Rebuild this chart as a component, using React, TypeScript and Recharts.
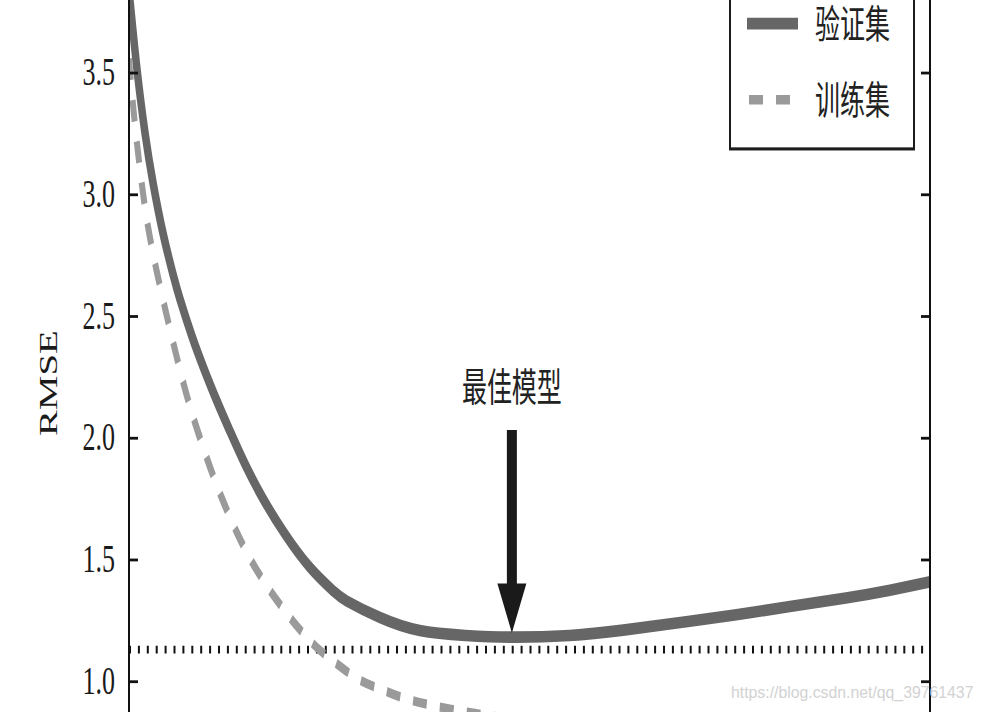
import React from 'react';
import { LineChart, Line, XAxis, YAxis, ReferenceLine, Legend, Label } from 'recharts';

// ---- data ----
const validationX = [0, 0.96, 2.0, 3.0, 4.24, 5.49, 6.37, 7.83, 9.28, 10.95, 12.61, 14.48, 16.77, 19.48, 22.6, 25.5, 27.2, 31.3, 36.3, 42, 47.8, 55, 61.7, 68.6, 75.6, 82.5, 89.5, 95, 100];
const validationRmse = [3.84, 3.527, 3.254, 3.049, 2.843, 2.674, 2.571, 2.422, 2.292, 2.155, 2.029, 1.894, 1.75, 1.606, 1.469, 1.373, 1.331, 1.264, 1.21, 1.19, 1.183, 1.19, 1.212, 1.242, 1.274, 1.309, 1.344, 1.376, 1.41];
const trainX = [0, 0.5, 1.0, 1.58, 2.37, 3.5, 4.74, 5.95, 7.3, 8.86, 10.61, 12.48, 14.61, 16.98, 19.48, 21.7, 23.8, 25.8, 28.8, 31.7, 35.1, 42, 50, 60, 70, 80, 90, 100];
const trainRmse = [3.56, 3.37, 3.21, 3.05, 2.87, 2.68, 2.5, 2.335, 2.166, 2.001, 1.837, 1.685, 1.537, 1.405, 1.29, 1.2, 1.13, 1.077, 1.007, 0.966, 0.925, 0.876, 0.84, 0.81, 0.79, 0.78, 0.77, 0.765];
const seriesNames = ['验证集', '训练集'];
const yTicks = [1.0, 1.5, 2.0, 2.5, 3.0, 3.5];
const yDomain = [0.8756, 3.8];
const xDomain = [0, 100];
const bestModelX = 47.8;
const arrowFrom = 2.034;
const arrowTo = 1.2;
const dottedLevel = 1.132;
const bestLabel = '最佳模型';
const yLabel = 'RMSE';
const watermark = 'https://blog.csdn.net/qq_39761437';

const validationData = validationX.map((x, i) => ({ x, v: validationRmse[i] }));
const trainData = trainX.map((x, i) => ({ x, v: trainRmse[i] }));

// ---- layout ----
const W = 983;
const H = 459;
const STRETCH = 712 / H;
const SERIF = "'Liberation Serif', 'Times New Roman', 'DejaVu Serif', serif";
const CJK = "'Noto Sans CJK SC', 'Noto Sans', sans-serif";

const LeftTick = (p: any) => (
  <g>
    <line x1={p.x} x2={p.x + 9} y1={p.y} y2={p.y} stroke="#111" strokeWidth={1.8} />
    <text x={p.x - 14} y={p.y} dy="0.3em" textAnchor="end" fontFamily={SERIF} fontSize={26} fill="#1a1a1a">
      {Number(p.payload.value).toFixed(1)}
    </text>
  </g>
);

const RightTick = (p: any) => (
  <line x1={p.x} x2={p.x - 9} y1={p.y} y2={p.y} stroke="#111" strokeWidth={1.8} />
);

const RmseLabel = (p: any) => {
  const vb = p.viewBox || { x: 0, y: 0, width: 129, height: H };
  const cx = vb.x + 57;
  const cy = vb.y + vb.height * (247 / 459);
  return (
    <text transform={`translate(${cx},${cy}) rotate(-90)`} textAnchor="middle" fontFamily={SERIF} fontSize={25} fill="#1a1a1a">
      {yLabel}
    </text>
  );
};

const BestArrow = (p: any) => {
  const x = p.x1;
  const top = Math.min(p.y1, p.y2);
  const tip = Math.max(p.y1, p.y2);
  const headH = 32;
  const headHalf = 14.5;
  const shaftHalf = 5;
  const pts = [
    [x - shaftHalf, top],
    [x + shaftHalf, top],
    [x + shaftHalf, tip - headH],
    [x + headHalf, tip - headH],
    [x, tip],
    [x - headHalf, tip - headH],
    [x - shaftHalf, tip - headH],
  ].map((q) => q.join(',')).join(' ');
  return (
    <g>
      <polygon points={pts} fill="#1a1a1a" />
      <text x={x} y={top - 18.5} textAnchor="middle" fontFamily={CJK} fontSize={25} fill="#222">
        {bestLabel}
      </text>
    </g>
  );
};

const LEG_W = 186;
const LEG_H = 114.5;
const renderLegend = (props: any) => {
  const items = [...(props.payload || [])].sort(
    (a: any, b: any) => seriesNames.indexOf(a.value) - seriesNames.indexOf(b.value)
  );
  const rows = [33.2, 82.3];
  return (
    <div style={{ width: LEG_W, height: LEG_H, border: '2.3px solid #1c1c1c', boxSizing: 'border-box', background: '#fff', position: 'relative' }}>
      <svg width={LEG_W} height={LEG_H} style={{ position: 'absolute', left: -2.3, top: -2.3, overflow: 'visible' }}>
        {items.map((it: any, i: number) => {
          const y = rows[i] ?? rows[0] + i * 50;
          const dash = it.payload && it.payload.strokeDasharray;
          const sw = it.payload && it.payload.strokeWidth;
          return (
            <g key={i}>
              <line x1={dash ? 20 : 18} x2={69} y1={y} y2={y} stroke={it.color} strokeWidth={sw || 6} strokeDasharray={dash} />
              <text x={86} y={y + 9.5} fontFamily={CJK} fontSize={25} fill="#222">{it.value}</text>
            </g>
          );
        })}
      </svg>
    </div>
  );
};

export default function App() {
  return (
    <div style={{ position: 'absolute', left: 0, top: 0, width: W, height: 712, overflow: 'hidden', background: '#fff' }}>
      <div style={{ width: W, height: H, transform: `scaleY(${STRETCH})`, transformOrigin: '0 0' }}>
        <LineChart width={W} height={H} margin={{ top: 0, right: 0, bottom: 0, left: 0 }}>
          <XAxis type="number" dataKey="x" domain={xDomain} hide allowDataOverflow />
          <YAxis
            yAxisId="left"
            orientation="left"
            width={129}
            type="number"
            domain={yDomain}
            ticks={yTicks}
            interval={0}
            allowDataOverflow
            tickSize={0}
            tickMargin={0}
            tickLine={false}
            tick={LeftTick}
            axisLine={{ stroke: '#111', strokeWidth: 2 }}
          >
            <Label content={RmseLabel} />
          </YAxis>
          <YAxis
            yAxisId="right"
            orientation="right"
            width={53}
            type="number"
            domain={yDomain}
            ticks={yTicks}
            interval={0}
            allowDataOverflow
            tickSize={0}
            tickMargin={0}
            tickLine={false}
            tick={RightTick}
            axisLine={{ stroke: '#111', strokeWidth: 2 }}
          />
          <ReferenceLine yAxisId="left" y={dottedLevel} stroke="#111" strokeWidth={5} strokeDasharray="2 6.9" />
          <Line
            yAxisId="left"
            data={validationData}
            dataKey="v"
            name={seriesNames[0]}
            type="natural"
            stroke="#666666"
            strokeWidth={7.5}
            dot={false}
            activeDot={false}
            isAnimationActive={false}
          />
          <Line
            yAxisId="left"
            data={trainData}
            dataKey="v"
            name={seriesNames[1]}
            type="natural"
            stroke="#9a9a9a"
            strokeWidth={6}
            strokeDasharray="14 13"
            dot={false}
            activeDot={false}
            isAnimationActive={false}
          />
          <ReferenceLine
            yAxisId="left"
            segment={[{ x: bestModelX, y: arrowFrom }, { x: bestModelX, y: arrowTo }]}
            shape={BestArrow}
          />
          <Legend
            layout="horizontal"
            verticalAlign="middle"
            align="center"
            content={renderLegend}
            wrapperStyle={{ left: 729, top: -17.7, width: LEG_W, height: LEG_H }}
          />
        </LineChart>
      </div>
      <div style={{ position: 'absolute', left: 731, top: 684, fontFamily: "'Liberation Sans', Arial, sans-serif", fontSize: 15.8, color: '#d2d2d2', whiteSpace: 'nowrap' }}>
        {watermark}
      </div>
    </div>
  );
}
